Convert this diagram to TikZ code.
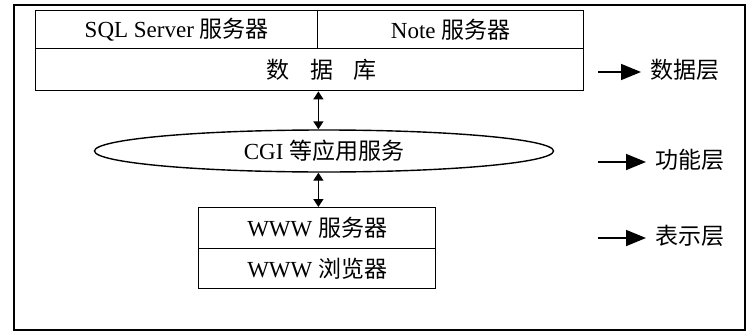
\documentclass[tikz,border=0pt]{standalone}
\usepackage{fontspec}
\setmainfont{Liberation Serif}
\newfontfamily\cjk{Noto Sans CJK SC}
\usetikzlibrary{arrows.meta,shapes.geometric}
\tikzset{
  cell/.style={draw,line width=1.4pt,rectangle,inner sep=0pt,anchor=north west,font=\fontsize{23}{26}\selectfont},
  layerlbl/.style={anchor=west,inner sep=0pt,font=\cjk\fontsize{23}{26}\selectfont},
  dbl/.style={line width=1.4pt,{Triangle[length=8pt,width=10pt]}-{Triangle[length=8pt,width=10pt]}},
  toarrow/.style={line width=1.6pt,-{Triangle[length=20pt,width=16pt]},shorten >=9pt}
}
\begin{document}
\begin{tikzpicture}[x=1pt,y=-1pt]
\useasboundingbox (0,0) rectangle (747,332);
\draw[line width=1.6pt] (14,5) rectangle (745,330);
\node[cell,minimum width=282pt,minimum height=38pt] (sql) at (35,10) {SQL Server {\cjk 服务器}};
\node[cell,minimum width=266pt,minimum height=38pt] (note) at (317,10) {Note {\cjk 服务器}};
\node[cell,minimum width=548pt,minimum height=42pt] (db) at (35,48) {\hspace*{24pt}{\cjk 数\hspace{0.9em}据\hspace{0.9em}库}};
\node[draw,ellipse,line width=1.4pt,minimum width=459pt,minimum height=42pt,inner sep=0pt,font=\fontsize{23}{26}\selectfont] (ell) at (324,151) {CGI {\cjk 等应用服务}};
\node[cell,minimum width=237pt,minimum height=41pt] (www) at (198,207) {WWW {\cjk 服务器}};
\node[cell,minimum width=237pt,minimum height=40pt] (brw) at (198,248) {WWW {\cjk 浏览器}};
\draw[dbl] (sql.south east |- db.south) -- (sql.south east |- ell.north);
\draw[dbl] (sql.south east |- ell.south) -- (sql.south east |- www.north);
\node[layerlbl] (l1) at (650,70) {数据层};
\node[layerlbl] (l2) at (655,160) {功能层};
\node[layerlbl] (l3) at (655,236) {表示层};
\coordinate (a1) at (598,72);
\coordinate (a2) at (598,162);
\coordinate (a3) at (598,238);
\draw[toarrow] (a1) -- (a1 -| l1.west);
\draw[toarrow] (a2) -- (a2 -| l2.west);
\draw[toarrow] (a3) -- (a3 -| l3.west);
\end{tikzpicture}
\end{document}
